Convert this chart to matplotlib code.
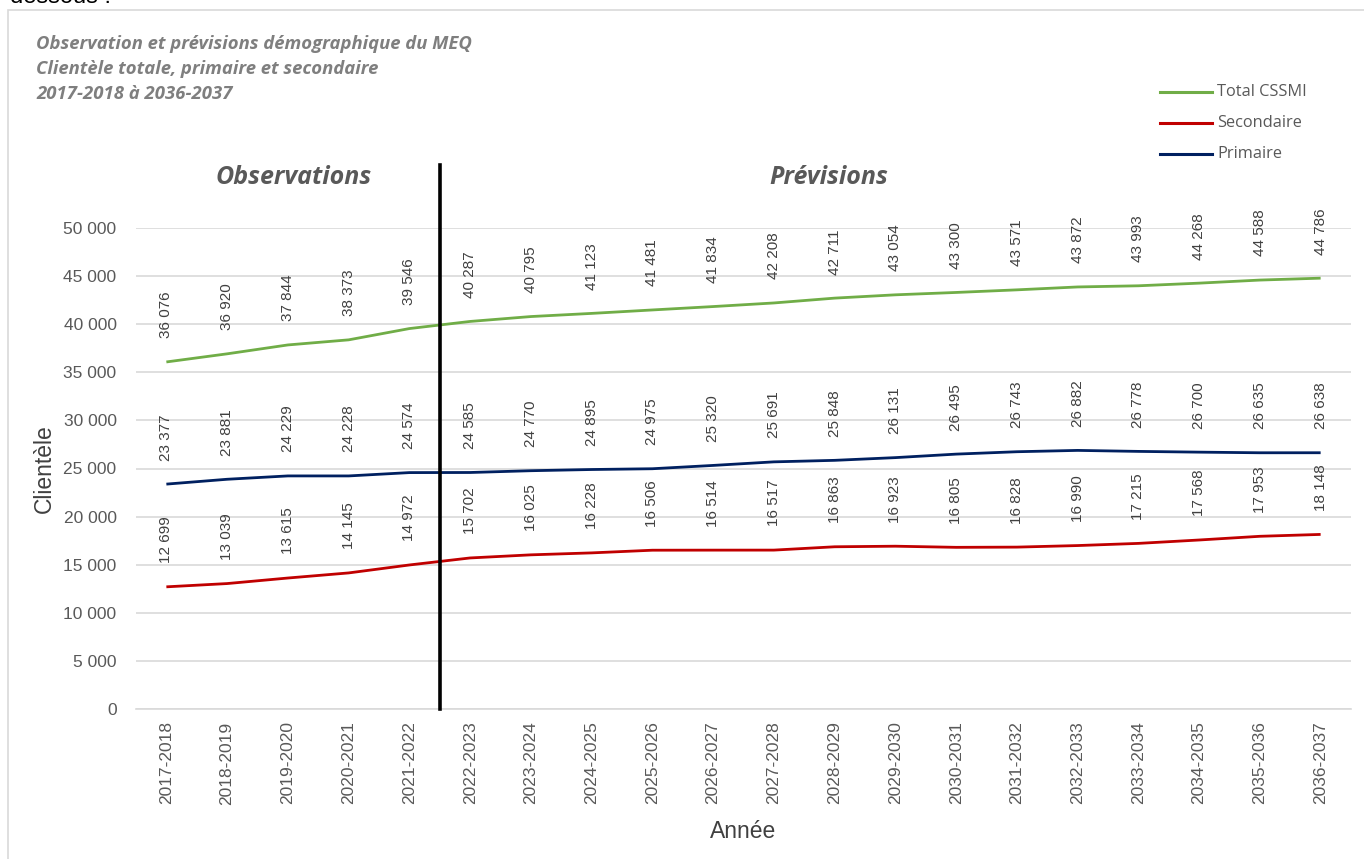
import matplotlib
matplotlib.use("Agg")
import matplotlib.pyplot as plt
from matplotlib.patches import Rectangle
from matplotlib.lines import Line2D
import matplotlib.transforms as mtransforms

years = ["2017-2018", "2018-2019", "2019-2020", "2020-2021", "2021-2022",
         "2022-2023", "2023-2024", "2024-2025", "2025-2026", "2026-2027",
         "2027-2028", "2028-2029", "2029-2030", "2030-2031", "2031-2032",
         "2032-2033", "2033-2034", "2034-2035", "2035-2036", "2036-2037"]
total = [36076, 36920, 37844, 38373, 39546, 40287, 40795, 41123, 41481, 41834,
         42208, 42711, 43054, 43300, 43571, 43872, 43993, 44268, 44588, 44786]
primaire = [23377, 23881, 24229, 24228, 24574, 24585, 24770, 24895, 24975, 25320,
            25691, 25848, 26131, 26495, 26743, 26882, 26778, 26700, 26635, 26638]
secondaire = [12699, 13039, 13615, 14145, 14972, 15702, 16025, 16228, 16506, 16514,
              16517, 16863, 16923, 16805, 16828, 16990, 17215, 17568, 17953, 18148]
yticks = [0, 5000, 10000, 15000, 20000, 25000, 30000, 35000, 40000, 45000, 50000]

W, H = 1364, 859
fig = plt.figure(figsize=(W / 100, H / 100), dpi=100)
fig.patch.set_facecolor("white")

def fx(px):
    return px / W

def fy(py):
    return 1 - py / H

# outer frame
fig.patches.append(Rectangle((fx(8), fy(900)), fx(1400), (900 - 10) / H,
                             transform=fig.transFigure, fill=False,
                             edgecolor="#d9d9d9", linewidth=1.2))
fig.text(fx(10), fy(3), "dessous :", fontsize=17, family="Liberation Sans",
         color="black", va="baseline")

ax = fig.add_axes([fx(136), fy(709), fx(1351 - 136), (709 - 228) / H])
x = list(range(len(years)))

def fmt(v):
    return f"{v:,}".replace(",", " ")

series = [(total, "#70ad47", "Total CSSMI"),
          (secondaire, "#c00000", "Secondaire"),
          (primaire, "#002060", "Primaire")]
for vals, col, name in series:
    ax.plot(x, vals, color=col, linewidth=2.0, solid_capstyle="butt")
    for xi, v in zip(x, vals):
        ax.annotate(fmt(v), (xi, v), xytext=(0, 17), textcoords="offset points",
                    rotation=90, ha="center", va="bottom", fontsize=11,
                    family="Liberation Sans", color="#404040")

ax.set_xlim(-0.5, len(years) - 0.5)
ax.set_ylim(0, 50000)
ax.set_yticks(yticks)
ax.set_yticklabels([fmt(v) for v in yticks], family="Liberation Sans",
                   fontsize=12.5, color="#595959")
ax.set_xticks(x)
ax.set_xticklabels(years, rotation=90, family="Liberation Sans",
                   fontsize=12.5, color="#595959")
ax.tick_params(axis="y", length=0, pad=14)
ax.tick_params(axis="x", length=0, pad=9)
ax.grid(axis="y", color="#d9d9d9", linewidth=1.2)
ax.set_axisbelow(True)
for s in ["top", "right", "left"]:
    ax.spines[s].set_visible(False)
ax.spines["bottom"].set_color("#d9d9d9")
ax.spines["bottom"].set_linewidth(1.2)

ax.set_ylabel("Clientèle", family="Liberation Sans", fontsize=16.5,
              color="#404040", labelpad=5)
ax.set_xlabel("Année", family="Liberation Sans", fontsize=16.5,
              color="#404040", labelpad=11)

# separator line
trans = mtransforms.blended_transform_factory(ax.transData, ax.transAxes)
top_ax = (709 - 165) / (709 - 228)
ax.plot([4.5, 4.5], [0, top_ax], color="black", linewidth=2.6,
        transform=trans, clip_on=False, zorder=5)

ax.text(2.1, (709 - 178) / (709 - 228), "Observations", transform=trans,
        ha="center", va="center", fontsize=18, fontweight="bold",
        fontstyle="italic", family="Open Sans", color="#595959")
ax.text(10.9, (709 - 178) / (709 - 228), "Prévisions", transform=trans,
        ha="center", va="center", fontsize=18, fontweight="bold",
        fontstyle="italic", family="Open Sans", color="#595959")

# title
for i, t in enumerate(["Observation et prévisions démographique du MEQ",
                       "Clientèle totale, primaire et secondaire",
                       "2017-2018 à 2036-2037"]):
    fig.text(fx(36), fy(44 + 25 * i), t, fontsize=13.3, fontweight="bold",
             fontstyle="italic", family="Open Sans", color="#7f7f7f",
             va="center", ha="left")

# legend
for i, (vals, col, name) in enumerate(series):
    yy = fy(92 + 31 * i)
    fig.add_artist(Line2D([fx(1160), fx(1212)], [yy, yy], color=col,
                          linewidth=2.2, transform=fig.transFigure))
    fig.text(fx(1217), yy, name, fontsize=11.8, family="Open Sans",
             color="#595959", va="center", ha="left")

fig.savefig("out.png", dpi=100)
